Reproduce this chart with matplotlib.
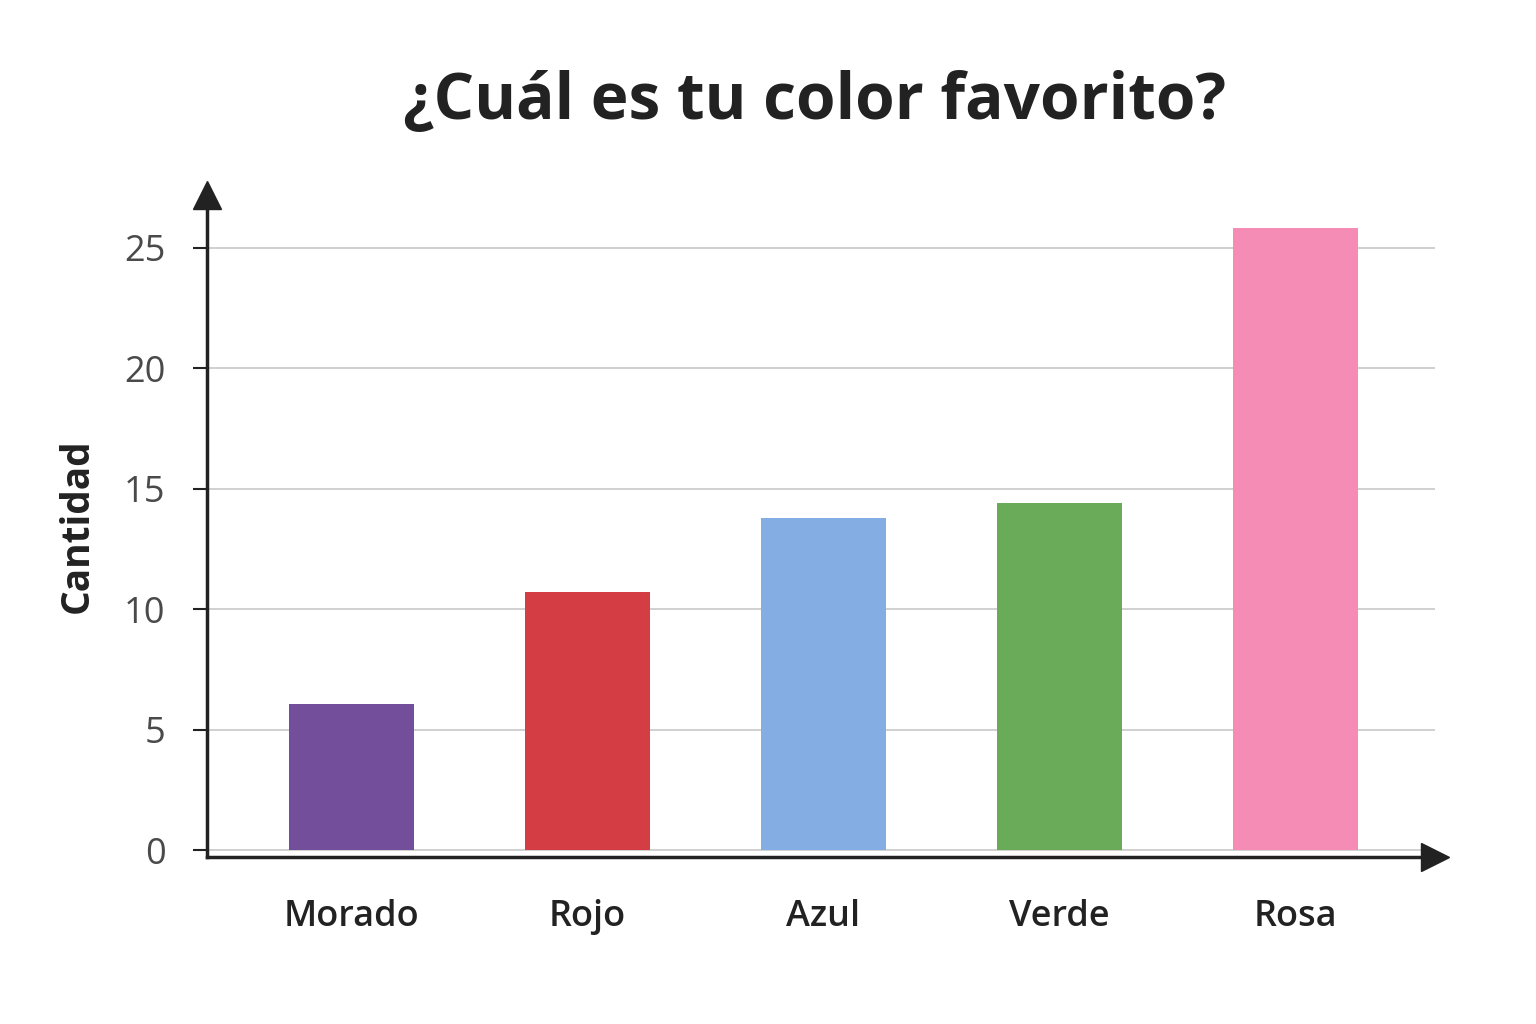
import matplotlib.pyplot as plt

plt.rcParams['font.family'] = ['Open Sans', 'DejaVu Sans']

colores = ['Morado', 'Rojo', 'Azul', 'Verde', 'Rosa']
cantidad = [6.05, 10.7, 13.8, 14.4, 25.8]
tonos = ['#724e9b', '#d33d43', '#83ade3', '#6aab5a', '#f58cb5']
ticks = [0, 5, 10, 15, 20, 25]

fig = plt.figure(figsize=(15.36, 10.24), dpi=100)
ax = fig.add_axes([0.135, 0.163, 0.799, 0.647])

x = range(len(colores))
ax.bar(x, cantidad, width=0.53, color=tonos, zorder=3)

ax.set_xlim(-0.61, 4.59)
ax.set_ylim(-0.29, 27.2)
ax.set_yticks(ticks)
ax.set_yticklabels([str(t) for t in ticks], fontsize=26, color='#4a4a4a')
ax.set_xticks(list(x))
ax.set_xticklabels(colores, fontsize=26, fontweight='semibold', color='#222222')
ax.tick_params(axis='x', length=0, pad=30)
ax.tick_params(axis='y', length=10, width=1.5, color='#222222', pad=20)
ax.yaxis.grid(True, color='#c8c8c8', linewidth=1.2, zorder=0)

for s in ['top', 'right']:
    ax.spines[s].set_visible(False)
ax.spines['left'].set_linewidth(2.5)
ax.spines['bottom'].set_linewidth(2.5)
ax.spines['left'].set_color('#222222')
ax.spines['bottom'].set_color('#222222')

# flechas de los ejes
ax.plot(1, 0, '>', color='#222222', markersize=20, transform=ax.transAxes, clip_on=False)
ax.plot(0, 1, '^', color='#222222', markersize=20, transform=ax.transAxes, clip_on=False)

ax.set_ylabel('Cantidad', fontsize=28, fontweight='bold', color='#222222', labelpad=20)
fig.text(0.53, 0.9, '¿Cuál es tu color favorito?', fontsize=46, fontweight='bold',
         color='#222222', ha='center', va='center')

fig.savefig('out.png', dpi=100, facecolor='white')
